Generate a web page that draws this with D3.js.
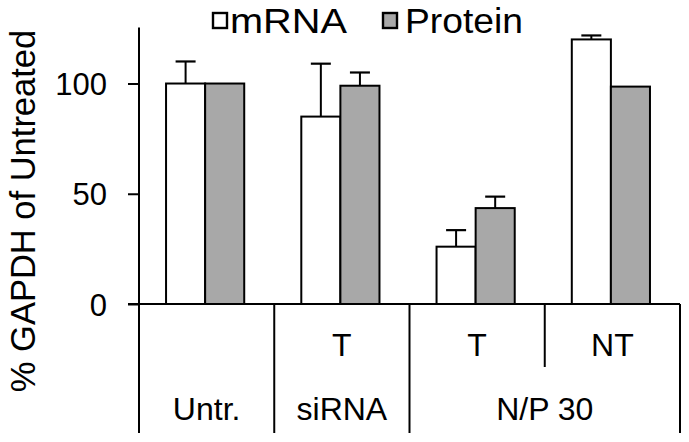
<!DOCTYPE html>
<html>
<head>
<meta charset="utf-8">
<script src="https://cdn.jsdelivr.net/npm/d3@7"></script>
<style>
  html, body { margin: 0; padding: 0; background: #fff; }
  svg { display: block; font-family: "Liberation Sans", Arial, sans-serif; }
</style>
</head>
<body>
<svg id="chart" width="689" height="442"></svg>
<script>
// ---- data ----
const groups = ["Untr.", "siRNA T", "N/P 30 T", "N/P 30 NT"];
const rowOneLabels = ["", "T", "T", "NT"];
const rowTwoLabels = [
  { label: "Untr.", from: 0, to: 0 },
  { label: "siRNA", from: 1, to: 1 },
  { label: "N/P 30", from: 2, to: 3 }
];
const series = ["mRNA", "Protein"];
const mRNAValues = [100, 85, 26, 120];
const mRNAErrors = [10, 24, 7.5, 1.8];
const proteinValues = [100, 99, 43.5, 98.6];
const proteinErrors = [0, 6, 5.2, 0];
const yTicks = [0, 50, 100];
const yTitle = "% GAPDH of Untreated";

const svg = d3.select("#chart");
const colors = { mRNA: "#ffffff", Protein: "#a8a8a8" };

const mLeft = 139, mRight = 680, mTop = 28.4, mBottom = 304, catBottom = 433;

const y = d3.scaleLinear().domain([0, 125]).range([mBottom, mTop]);
const x0 = d3.scaleBand().domain(groups).range([mLeft, mRight]).padding(0);
const bw = x0.bandwidth();
const x1 = d3.scaleBand().domain(series).range([bw * 0.2, bw * 0.778]).padding(0);

const data = groups.map((g, i) => ({
  group: g,
  bars: [
    { s: "mRNA", v: mRNAValues[i], e: mRNAErrors[i] },
    { s: "Protein", v: proteinValues[i], e: proteinErrors[i] }
  ]
}));

const gGroups = svg.append("g").selectAll("g").data(data).join("g")
  .attr("transform", d => `translate(${x0(d.group)},0)`);

gGroups.selectAll("g.err").data(d => d.bars.filter(b => b.e > 0)).join("g")
  .attr("class", "err")
  .each(function(b) {
    const g = d3.select(this);
    const cx = x1(b.s) + x1.bandwidth() / 2;
    g.append("line").attr("x1", cx).attr("x2", cx)
      .attr("y1", y(b.v)).attr("y2", y(b.v + b.e))
      .attr("stroke", "#000").attr("stroke-width", 2);
    g.append("line").attr("x1", cx - 10).attr("x2", cx + 10)
      .attr("y1", y(b.v + b.e)).attr("y2", y(b.v + b.e))
      .attr("stroke", "#000").attr("stroke-width", 2.2);
  });

gGroups.selectAll("rect").data(d => d.bars).join("rect")
  .attr("x", b => x1(b.s))
  .attr("width", x1.bandwidth())
  .attr("y", b => y(b.v))
  .attr("height", b => y(0) - y(b.v))
  .attr("fill", b => colors[b.s])
  .attr("stroke", "#000")
  .attr("stroke-width", 2);

// y axis
const yAxis = d3.axisLeft(y).tickValues(yTicks).tickSize(11).tickPadding(21);
const ya = svg.append("g").attr("transform", `translate(${mLeft},0)`).call(yAxis);
ya.select(".domain").remove();
ya.selectAll(".tick line").attr("stroke", "#000").attr("stroke-width", 2);
ya.selectAll(".tick text").attr("font-size", 31).attr("fill", "#000")
  .attr("font-family", "Liberation Sans, Arial, sans-serif").attr("dy", "0.36em");

svg.append("line").attr("x1", mLeft).attr("x2", mLeft).attr("y1", mTop - 1).attr("y2", catBottom)
  .attr("stroke", "#000").attr("stroke-width", 2);
svg.append("line").attr("x1", mLeft - 11).attr("x2", mRight).attr("y1", mBottom).attr("y2", mBottom)
  .attr("stroke", "#000").attr("stroke-width", 2);

// category dividers
const edges = groups.map((g, i) => ({ x: x0(g), i }));
edges.push({ x: mRight, i: groups.length });
edges.filter(e => e.i > 0).forEach(e => {
  const short = e.i === 3;
  svg.append("line").attr("x1", e.x).attr("x2", e.x)
    .attr("y1", mBottom).attr("y2", short ? 367 : catBottom)
    .attr("stroke", "#000").attr("stroke-width", 2);
});

svg.append("g").selectAll("text").data(groups).join("text")
  .attr("x", g => x0(g) + bw / 2)
  .attr("y", 356)
  .attr("text-anchor", "middle")
  .attr("font-size", 32)
  .attr("fill", "#000")
  .text((g, i) => rowOneLabels[i]);

svg.append("g").selectAll("text").data(rowTwoLabels).join("text")
  .attr("x", d => (x0(groups[d.from]) + x0(groups[d.to]) + bw) / 2)
  .attr("y", 420)
  .attr("text-anchor", "middle")
  .attr("font-size", 32)
  .attr("fill", "#000")
  .text(d => d.label);

svg.append("text")
  .attr("transform", `translate(35,${211}) rotate(-90)`)
  .attr("text-anchor", "middle")
  .attr("font-size", 34.5)
  .attr("fill", "#000")
  .text(yTitle);

// legend
const legendX = [213, 383];
const legendTextW = [117, 118];
const leg = svg.append("g");
series.forEach((s, i) => {
  const lx = legendX[i];
  leg.append("rect").attr("x", lx).attr("y", 13).attr("width", 14).attr("height", 15)
    .attr("fill", colors[s]).attr("stroke", "#000").attr("stroke-width", 2.4);
  leg.append("text").attr("x", lx + (i === 0 ? 17 : 22)).attr("y", 33)
    .attr("font-size", 35).attr("fill", "#000")
    .attr("textLength", legendTextW[i]).attr("lengthAdjust", "spacingAndGlyphs")
    .text(s);
});
</script>
</body>
</html>
